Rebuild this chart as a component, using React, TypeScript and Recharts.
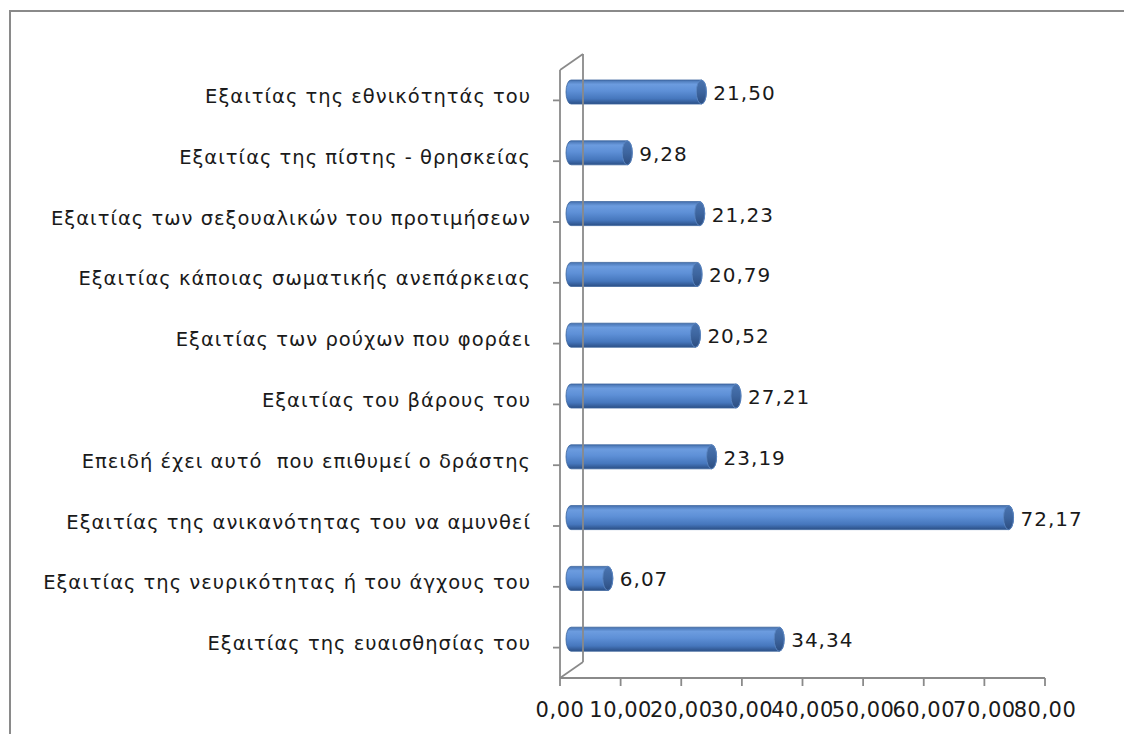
import React from 'react';
import { BarChart, Bar, XAxis, YAxis, ReferenceLine, LabelList } from 'recharts';

const categories: string[] = [
  'Εξαιτίας της εθνικότητάς του',
  'Εξαιτίας της πίστης - θρησκείας',
  'Εξαιτίας των σεξουαλικών του προτιμήσεων',
  'Εξαιτίας κάποιας σωματικής ανεπάρκειας',
  'Εξαιτίας των ρούχων που φοράει',
  'Εξαιτίας του βάρους του',
  'Επειδή έχει αυτό  που επιθυμεί ο δράστης',
  'Εξαιτίας της ανικανότητας του να αμυνθεί',
  'Εξαιτίας της νευρικότητας ή του άγχους του',
  'Εξαιτίας της ευαισθησίας του',
];
const values: number[] = [21.5, 9.28, 21.23, 20.79, 20.52, 27.21, 23.19, 72.17, 6.07, 34.34];
const xTicks: number[] = [0, 10, 20, 30, 40, 50, 60, 70, 80];

const data = categories.map((name, i) => ({ name, value: values[i] }));

const fmt = (v: number) => v.toFixed(2).replace('.', ',');

const DX = 11;
const DY = -8;
const RX = 5;
const AXIS = '#8a8a8a';
const FONT = '"DejaVu Sans", Verdana, sans-serif';

const Cylinder = (props: any) => {
  const { x, y, width, height } = props;
  if (width == null || height == null) return null;
  const x0 = x + DX;
  const y0 = y + DY;
  const x1 = x0 + width;
  const ry = height / 2;
  const d = `M${x0},${y0} L${x1},${y0} A${RX},${ry} 0 0 1 ${x1},${y0 + height} L${x0},${y0 + height} A${RX},${ry} 0 0 1 ${x0},${y0} Z`;
  return (
    <g>
      <path d={d} fill="url(#cylGrad)" stroke="#3a639c" strokeWidth={0.8} />
      <ellipse cx={x1} cy={y0 + ry} rx={RX} ry={ry} fill="url(#capGrad)" stroke="#5a86c2" strokeWidth={0.9} />
    </g>
  );
};

const ValueLabel = (props: any) => {
  const { x, y, width, height, value } = props;
  return (
    <text
      x={x + width + DX + RX + 7}
      y={y + DY + height / 2 + 1}
      dominantBaseline="central"
      fontFamily={FONT}
      fontSize={20}
      letterSpacing={1}
      fill="#1a1a1a"
    >
      {fmt(value)}
    </text>
  );
};

const CatTick = (props: any) => {
  const { x, y, payload } = props;
  return (
    <text
      x={x}
      y={y - 4}
      textAnchor="end"
      dominantBaseline="central"
      fontFamily={FONT}
      fontSize={19.5}
      letterSpacing={1}
      fill="#1a1a1a"
      style={{ whiteSpace: 'pre' }}
    >
      {payload.value}
    </text>
  );
};

const NumTick = (props: any) => {
  const { x, y, payload } = props;
  return (
    <text
      x={x}
      y={y + 14}
      textAnchor="middle"
      dominantBaseline="hanging"
      fontFamily={FONT}
      fontSize={21}
      letterSpacing={0.5}
      fill="#1a1a1a"
    >
      {fmt(payload.value)}
    </text>
  );
};

const Walls = (props: any) => {
  const { x1, y1, x2, y2 } = props;
  if (x1 == null) return null;
  const x = x1;
  const top = Math.min(y1, y2);
  const bot = Math.max(y1, y2);
  const bx = x + 23;
  return (
    <g stroke={AXIS} strokeWidth={1.8} fill="none">
      <line x1={x} y1={top} x2={bx} y2={top - 16} />
      <line x1={bx} y1={top - 16} x2={bx} y2={bot - 16} />
      <line x1={x} y1={bot} x2={bx} y2={bot - 16} />
    </g>
  );
};

export default function App() {
  return (
    <div style={{ position: 'relative', width: 1124, height: 726, background: '#fff' }}>
      <div style={{ position: 'absolute', left: 1, top: 2, width: 1123, height: 2, background: '#8a8a8a' }} />
      <div style={{ position: 'absolute', left: 1, top: 2, width: 2, height: 724, background: '#8a8a8a' }} />
      <div style={{ position: 'absolute', left: 0, top: 0 }}>
        <BarChart
          width={1124}
          height={726}
          data={data}
          layout="vertical"
          margin={{ top: 62, right: 87, bottom: 16, left: 0 }}
          barCategoryGap={0}
        >
          <defs>
            <linearGradient id="cylGrad" x1="0" y1="0" x2="0" y2="1">
              <stop offset="0%" stopColor="#4672b0" />
              <stop offset="18%" stopColor="#6c9cdf" />
              <stop offset="45%" stopColor="#5e90d7" />
              <stop offset="78%" stopColor="#4677bd" />
              <stop offset="100%" stopColor="#2b4f86" />
            </linearGradient>
            <linearGradient id="capGrad" x1="0" y1="0" x2="0" y2="1">
              <stop offset="0%" stopColor="#4a74b0" />
              <stop offset="50%" stopColor="#3d659f" />
              <stop offset="100%" stopColor="#2c4d80" />
            </linearGradient>
          </defs>
          <XAxis
            type="number"
            domain={[0, 80]}
            ticks={xTicks}
            interval={0}
            height={40}
            tick={<NumTick />}
            tickSize={8}
            axisLine={{ stroke: AXIS, strokeWidth: 1.8 }}
            tickLine={{ stroke: AXIS, strokeWidth: 1.8 }}
          />
          <YAxis
            type="category"
            dataKey="name"
            width={552}
            tick={<CatTick />}
            tickSize={7}
            tickMargin={22}
            interval={0}
            axisLine={{ stroke: AXIS, strokeWidth: 1.8 }}
            tickLine={{ stroke: AXIS, strokeWidth: 1.8 }}
          />
          <ReferenceLine x={0} stroke={AXIS} shape={<Walls />} />
          <Bar dataKey="value" barSize={24} shape={<Cylinder />} isAnimationActive={false}>
            <LabelList dataKey="value" content={<ValueLabel />} />
          </Bar>
        </BarChart>
      </div>
    </div>
  );
}
